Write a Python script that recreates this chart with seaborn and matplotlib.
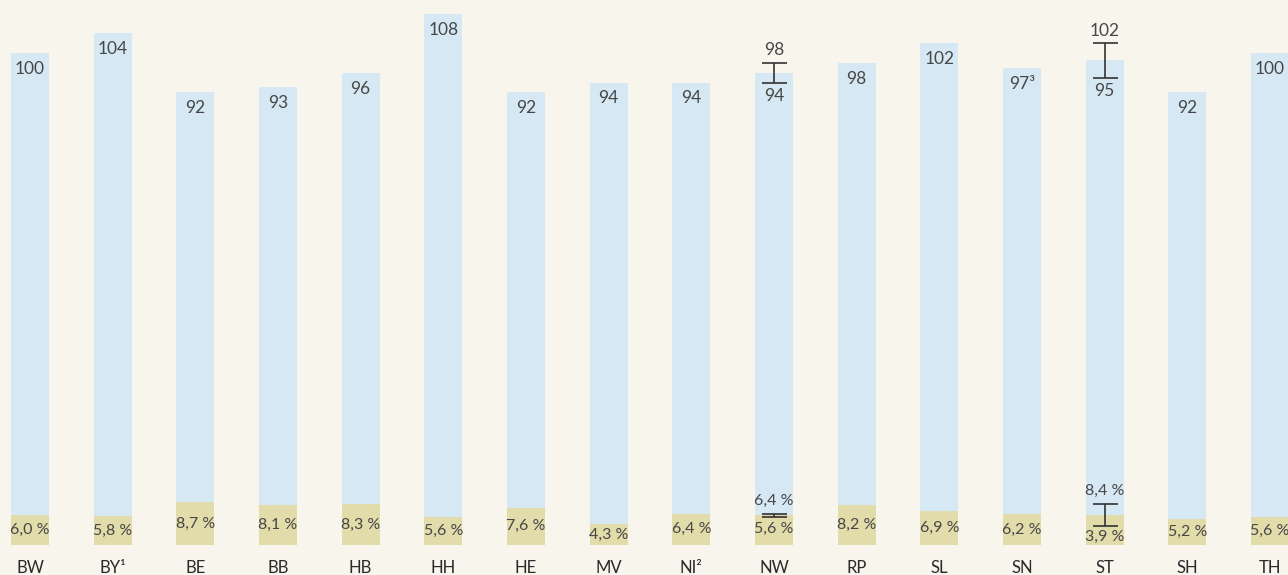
import matplotlib
matplotlib.use('Agg')
import matplotlib.pyplot as plt
import seaborn as sns

states = ['BW', 'BY¹', 'BE', 'BB', 'HB', 'HH', 'HE', 'MV', 'NI²', 'NW', 'RP', 'SL', 'SN', 'ST', 'SH', 'TH']
# index values (blue bars), NW and ST shown as ranges
index_vals = [100, 104, 92, 93, 96, 108, 92, 94, 94, 96, 98, 102, 97, 98.5, 92, 100]
index_labels = ['100', '104', '92', '93', '96', '108', '92', '94', '94', '', '98', '102', '97³', '', '92', '100']
# shares in percent (yellow bars)
share_vals = [6.0, 5.8, 8.7, 8.1, 8.3, 5.6, 7.6, 4.3, 6.4, 6.0, 8.2, 6.9, 6.2, 6.15, 5.2, 5.6]
share_labels = ['6,0', '5,8', '8,7', '8,1', '8,3', '5,6', '7,6', '4,3', '6,4', '', '8,2', '6,9', '6,2', '', '5,2', '5,6']
# ranges: state -> (low, high)
index_ranges = {'NW': (94, 98), 'ST': (95, 102)}
share_ranges = {'NW': (5.6, 6.4), 'ST': (3.9, 8.4)}

bg = '#F8F5EC'
blue = '#D6E8F4'
yellow = '#E2DBAA'
txt = '#474747'

sns.set_style('white')
plt.rcParams['font.family'] = ['Lato', 'DejaVu Sans']

fig = plt.figure(figsize=(12.88, 5.75), dpi=100, facecolor=bg)
ax = fig.add_axes([0, 30 / 575, 1, 545 / 575])
ax.set_facecolor(bg)

sns.barplot(x=states, y=index_vals, color=blue, saturation=1, width=0.46, linewidth=0, ax=ax)
sns.barplot(x=states, y=share_vals, color=yellow, saturation=1, width=0.46, linewidth=0, ax=ax)

def fmt_pct(s):
    return s + ' %'

for i, (v, lab) in enumerate(zip(index_vals, index_labels)):
    if lab:
        ax.annotate(lab, (i, v), xytext=(0, -11.5), textcoords='offset points',
                    ha='center', va='center', fontsize=12.5, color=txt)
for i, (v, lab) in enumerate(zip(share_vals, share_labels)):
    if lab:
        ax.text(i, v / 2, fmt_pct(lab), ha='center', va='center', fontsize=11.5, color=txt)

# range markers
for st, (lo, hi) in index_ranges.items():
    i = states.index(st)
    ax.errorbar(i, (lo + hi) / 2, yerr=(hi - lo) / 2, color='#333333', capsize=9, elinewidth=1.2, capthick=1.2)
    ax.annotate(str(hi), (i, hi), xytext=(0, 9), textcoords='offset points',
                ha='center', va='center', fontsize=12.5, color=txt)
    ax.annotate(str(lo), (i, lo), xytext=(0, -9.5), textcoords='offset points',
                ha='center', va='center', fontsize=12.5, color=txt)
for st, (lo, hi) in share_ranges.items():
    i = states.index(st)
    ax.errorbar(i, (lo + hi) / 2, yerr=(hi - lo) / 2, color='#333333', capsize=9, elinewidth=1.2, capthick=1.2)
    ax.annotate(fmt_pct(str(hi).replace('.', ',')), (i, hi), xytext=(0, 9), textcoords='offset points',
                ha='center', va='center', fontsize=11.5, color=txt)
    ax.annotate(fmt_pct(str(lo).replace('.', ',')), (i, lo), xytext=(0, -8), textcoords='offset points',
                ha='center', va='center', fontsize=11.5, color=txt)

ax.set_xlim(-30 / 82.67, (1288 - 30) / 82.67)
ax.set_ylim(0, 545 / 4.92)
ax.set_yticks([])
ax.tick_params(axis='x', length=0, pad=11, labelsize=12, labelcolor='#2a2a2a')
sns.despine(ax=ax, left=True, bottom=True)

fig.savefig('out.png', dpi=100, facecolor=bg)
